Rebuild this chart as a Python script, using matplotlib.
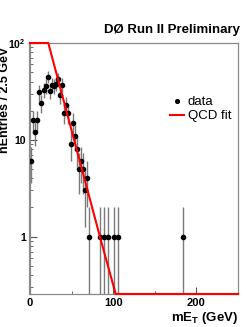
import matplotlib

matplotlib.use("Agg")
import matplotlib.pyplot as plt
import numpy as np
from matplotlib.ticker import FixedLocator, LogLocator, NullFormatter

# binned data (2.5 GeV bins)
bin_centres = [1.25, 3.75, 6.25, 8.75, 11.25, 13.75, 16.25, 18.75, 21.25, 23.75,
               26.25, 28.75, 31.25, 33.75, 36.25, 38.75, 41.25, 43.75, 46.25, 48.75,
               51.25, 53.75, 56.25, 58.75, 61.25, 63.75, 66.25, 68.75, 71.25, 83.75,
               88.75, 93.75, 101.25, 106.25, 183.75]
counts = [6, 16, 12, 16, 31, 24, 33, 36, 45, 32,
          37, 36, 38, 42, 29, 37, 19, 23, 19, 9,
          15, 11, 8, 5, 6, 5, 3, 4, 1, 1,
          1, 1, 1, 1, 1]

# QCD fit as drawn (clipped to the frame)
fit_x = [0, 22, 84, 103, 250]
fit_y = [100, 100, 1, 0.255, 0.255]

Y_MIN, Y_MAX = 0.255, 100
X_MIN, X_MAX = 0, 250

plt.rcParams["font.family"] = ["Liberation Sans", "DejaVu Sans"]
plt.rcParams["mathtext.fontset"] = "custom"
plt.rcParams["mathtext.rm"] = "Liberation Sans"
plt.rcParams["mathtext.bf"] = "Liberation Sans:bold"

fig = plt.figure(figsize=(2.47, 3.27), dpi=100)
ax = fig.add_axes([30 / 247, 1 - 294 / 327, 208 / 247, 251 / 327])

x = np.array(bin_centres)
y = np.array(counts, dtype=float)
err = np.sqrt(y)
lo = np.minimum(err, y - 1e-6)
ax.errorbar(x, y, yerr=[lo, err], fmt="none", ecolor="#7a7a7a", elinewidth=1.0, capsize=0, zorder=2)
ax.plot(x, y, "o", color="black", ms=3.0, zorder=3, label="data")
ax.plot(fit_x, fit_y, color="#ff0000", lw=1.5, clip_on=False, zorder=4, label="QCD fit")

ax.set_yscale("log")
ax.set_xlim(X_MIN, X_MAX)
ax.set_ylim(Y_MIN, Y_MAX)

ax.xaxis.set_major_locator(FixedLocator([0, 100, 200]))
ax.xaxis.set_minor_locator(FixedLocator([50, 150]))
ax.yaxis.set_major_locator(FixedLocator([1, 10, 100]))
ax.yaxis.set_minor_locator(LogLocator(base=10, subs=np.arange(2, 10)))
ax.yaxis.set_minor_formatter(NullFormatter())
ax.set_xticklabels(["0", "100", "200"], fontweight="bold", fontsize=8)
ax.set_yticklabels(["1", "10", r"$\mathbf{10^{2}}$"], fontweight="bold", fontsize=7.5)

ax.tick_params(which="both", direction="in", top=False, right=False, color="#555555")
ax.tick_params(which="major", length=5, width=0.8, pad=3)
ax.tick_params(which="minor", length=2.5, width=0.6)
for s in ax.spines.values():
    s.set_color("#8a8a8a")
    s.set_linewidth(0.9)
ax.spines["left"].set_linewidth(1.6)

ax.set_ylabel("nEntries / 2.5 GeV", fontsize=9, fontweight="bold", loc="top")
ax.yaxis.set_label_coords(-0.09, 0.985)
ax.set_xlabel(r"m$\mathbf{E_T}$ (GeV)", fontsize=9.5, fontweight="bold", loc="right", labelpad=1)

fig.text(240 / 247, 1 - 30 / 327, "DØ Run II Preliminary", ha="right", va="center",
         fontsize=9.5, fontweight="bold")

ax.legend(loc="upper left", bbox_to_anchor=(0.65, 0.81), frameon=False, fontsize=9.5,
          handlelength=1.0, handletextpad=0.3, borderaxespad=0, labelspacing=0.15,
          markerscale=0.9)

fig.savefig("out.png", dpi=100)
